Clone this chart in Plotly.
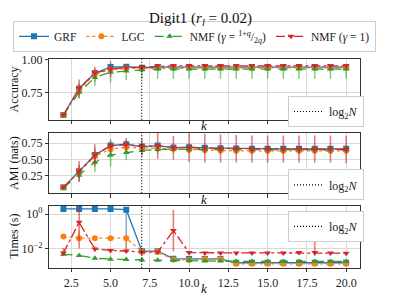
import plotly.graph_objects as go

# ---------------- data ----------------
k = list(range(2, 21))
LOG2N = 6.98

acc_grf = [0.575, 0.78, 0.90, 0.945, 0.948, 0.94, 0.945, 0.945, 0.945, 0.945, 0.945, 0.945, 0.945, 0.945, 0.945, 0.945, 0.945, 0.945, 0.945]
acc_grf_err = [0.005, 0.04, 0.02, 0.01, 0.01, 0.01, 0.008, 0.008, 0.008, 0.008, 0.008, 0.008, 0.008, 0.008, 0.008, 0.008, 0.008, 0.008, 0.008]
acc_lgc = [0.575, 0.77, 0.89, 0.925, 0.935, 0.935, 0.94, 0.94, 0.94, 0.94, 0.94, 0.94, 0.94, 0.94, 0.94, 0.94, 0.94, 0.94, 0.94]
acc_lgc_err = [0.005, 0.04, 0.06, 0.02, 0.015, 0.015, 0.015, 0.015, 0.015, 0.015, 0.015, 0.015, 0.015, 0.015, 0.015, 0.015, 0.015, 0.015, 0.015]
acc_nmfq = [0.575, 0.75, 0.865, 0.905, 0.915, 0.925, 0.93, 0.93, 0.93, 0.93, 0.93, 0.93, 0.93, 0.93, 0.93, 0.93, 0.93, 0.93, 0.93]
acc_nmfq_errp = [0.005, 0.04, 0.04, 0.03, 0.03, 0.03, 0.03, 0.03, 0.03, 0.03, 0.03, 0.03, 0.03, 0.03, 0.03, 0.03, 0.03, 0.03, 0.03]
acc_nmfq_errm = [0.005, 0.05, 0.065, 0.08, 0.07, 0.07, 0.075, 0.075, 0.075, 0.075, 0.075, 0.075, 0.075, 0.075, 0.075, 0.075, 0.075, 0.075, 0.075]
acc_nmf1 = [0.575, 0.78, 0.90, 0.93, 0.94, 0.945, 0.955, 0.955, 0.955, 0.955, 0.955, 0.955, 0.955, 0.955, 0.955, 0.955, 0.955, 0.955, 0.955]
acc_nmf1_err = [0.005, 0.07, 0.04, 0.06, 0.03, 0.015, 0.01, 0.01, 0.01, 0.01, 0.01, 0.01, 0.01, 0.01, 0.01, 0.01, 0.01, 0.01, 0.01]

ami_grf = [0.075, 0.32, 0.57, 0.715, 0.735, 0.70, 0.715, 0.685, 0.69, 0.68, 0.675, 0.67, 0.665, 0.665, 0.665, 0.665, 0.665, 0.665, 0.665]
ami_grf_err = [0.01, 0.1, 0.1, 0.06, 0.07, 0.05, 0.04, 0.04, 0.04, 0.04, 0.04, 0.04, 0.04, 0.04, 0.04, 0.04, 0.04, 0.04, 0.04]
ami_lgc = [0.075, 0.31, 0.55, 0.66, 0.69, 0.68, 0.67, 0.665, 0.65, 0.645, 0.64, 0.635, 0.635, 0.635, 0.635, 0.635, 0.635, 0.635, 0.635]
ami_lgc_err = [0.01, 0.1, 0.1, 0.06, 0.05, 0.05, 0.05, 0.05, 0.05, 0.05, 0.05, 0.05, 0.05, 0.05, 0.05, 0.05, 0.05, 0.05, 0.05]
ami_nmfq = [0.07, 0.26, 0.46, 0.57, 0.61, 0.64, 0.655, 0.66, 0.66, 0.655, 0.655, 0.65, 0.65, 0.65, 0.65, 0.65, 0.65, 0.65, 0.65]
ami_nmfq_err = [0.01, 0.1, 0.15, 0.18, 0.12, 0.08, 0.06, 0.05, 0.05, 0.05, 0.05, 0.05, 0.05, 0.05, 0.05, 0.05, 0.05, 0.05, 0.05]
ami_nmf1 = [0.075, 0.32, 0.565, 0.71, 0.73, 0.70, 0.71, 0.68, 0.685, 0.675, 0.67, 0.665, 0.66, 0.66, 0.66, 0.66, 0.66, 0.66, 0.655]
ami_nmf1_err = [0.01, 0.16, 0.17, 0.1, 0.1, 0.12, 0.2, 0.18, 0.22, 0.22, 0.22, 0.21, 0.21, 0.21, 0.21, 0.21, 0.21, 0.21, 0.21]

t_grf = [2.0, 2.0, 2.0, 2.0, 1.8, 0.007, 0.007, 0.0026, 0.0025, 0.0025, 0.0025, 0.0015, 0.0015, 0.0015, 0.0015, 0.0015, 0.0015, 0.0015, 0.0015]
t_grf_errp = [0.2, 0.2, 0.2, 0.2, 0.2, 0.0005, 0.0005, 0.0002, 0.0002, 0.0002, 0.0002, 0.0001, 0.0001, 0.0001, 0.0001, 0.0001, 0.0001, 0.0001, 0.0001]
t_grf_errm = [0.2, 0.2, 0.2, 0.2, 1.793, 0.0005, 0.0005, 0.0002, 0.0002, 0.0002, 0.0002, 0.0001, 0.0001, 0.0001, 0.0001, 0.0001, 0.0001, 0.0001, 0.0001]
t_lgc = [0.05, 0.04, 0.04, 0.04, 0.04, 0.0065, 0.0065, 0.0023, 0.0022, 0.0024, 0.0024, 0.0013, 0.0013, 0.0013, 0.0013, 0.0013, 0.0013, 0.0013, 0.0013]
t_lgc_errp = [0.005, 0.06, 0.005, 0.005, 0.005, 0.0005, 0.0005, 0.0002, 0.0002, 0.0002, 0.0002, 0.0001, 0.0001, 0.0001, 0.0001, 0.0001, 0.0001, 0.0001, 0.0001]
t_lgc_errm = [0.005, 0.005, 0.005, 0.005, 0.032, 0.0005, 0.0005, 0.0002, 0.0002, 0.0002, 0.0002, 0.0001, 0.0001, 0.0001, 0.0001, 0.0001, 0.0001, 0.0001, 0.0001]
t_nmfq = [0.0046, 0.004, 0.0027, 0.0024, 0.0023, 0.0022, 0.0021, 0.002, 0.002, 0.0019, 0.0019, 0.0018, 0.0018, 0.0018, 0.0018, 0.0018, 0.0018, 0.0018, 0.0018]
t_nmfq_err = [0.0004, 0.0003, 0.0002, 0.0002, 0.0002, 0.0002, 0.0002, 0.0002, 0.0002, 0.0002, 0.0002, 0.0002, 0.0002, 0.0002, 0.0002, 0.0002, 0.0002, 0.0002, 0.0002]
t_nmf1 = [0.0056, 0.33, 0.0095, 0.0078, 0.0072, 0.0062, 0.0062, 0.11, 0.0058, 0.0056, 0.0056, 0.0056, 0.0056, 0.0056, 0.0056, 0.0058, 0.0058, 0.0056, 0.0054]
t_nmf1_errp = [0.005, 2.3, 0.004, 0.002, 0.002, 0.001, 0.001, 1.6, 0.001, 0.001, 0.001, 0.001, 0.001, 0.001, 0.001, 0.001, 0.02, 0.001, 0.001]
t_nmf1_errm = [0.002, 0.32, 0.002, 0.001, 0.001, 0.001, 0.001, 0.103, 0.001, 0.001, 0.001, 0.001, 0.001, 0.001, 0.001, 0.001, 0.002, 0.001, 0.001]

names = ["GRF", "LGC", "NMF (<i>γ</i> = <sup>1+<i>q</i></sup>/<sub>2<i>q</i></sub>)", "NMF (<i>γ</i> = 1)"]
colors = ["#1f77b4", "#ff7f0e", "#2ca02c", "#d62728"]
ecolors = ["rgba(31,119,180,0.55)", "rgba(255,127,14,0.55)", "rgba(44,160,44,0.55)", "rgba(214,39,40,0.6)"]
dashes = ["solid", "dot", "dash", "dashdot"]
symbols = ["square", "circle", "triangle-up", "triangle-down"]

FONT = "Liberation Serif, Times New Roman, Times, serif"

# the page body has an 8px margin: figure is 392x292 drawn at (8,8)
W, H, OFF = 392, 292, 8


def px(X):
    return (X - OFF) / W


def py(Y):
    return 1 - (Y - OFF) / H


fig = go.Figure()

panels = [
    ("x", "y", [(acc_grf, acc_grf_err, acc_grf_err), (acc_lgc, acc_lgc_err, acc_lgc_err),
                (acc_nmfq, acc_nmfq_errp, acc_nmfq_errm), (acc_nmf1, acc_nmf1_err, acc_nmf1_err)]),
    ("x2", "y2", [(ami_grf, ami_grf_err, ami_grf_err), (ami_lgc, ami_lgc_err, ami_lgc_err),
                  (ami_nmfq, ami_nmfq_err, ami_nmfq_err), (ami_nmf1, ami_nmf1_err, ami_nmf1_err)]),
    ("x3", "y3", [(t_grf, t_grf_errp, t_grf_errm), (t_lgc, t_lgc_errp, t_lgc_errm),
                  (t_nmfq, t_nmfq_err, t_nmfq_err), (t_nmf1, t_nmf1_errp, t_nmf1_errm)]),
]

for pi, (xa, ya, series) in enumerate(panels):
    for si, (vals, ep, em) in enumerate(series):
        fig.add_trace(go.Scatter(
            x=k, y=vals, xaxis=xa, yaxis=ya, mode="lines+markers",
            name=names[si], showlegend=(pi == 0), legend="legend",
            line=dict(color=colors[si], width=1.3, dash=dashes[si]),
            marker=dict(symbol=symbols[si], size=6, color=colors[si], line=dict(width=0)),
            error_y=dict(type="data", array=ep, arrayminus=em, symmetric=False,
                         color=ecolors[si], thickness=1.6, width=0),
        ))

legend_names = ["legend2", "legend3", "legend4"]
legend_tops = [91.7, 166.7, 209]
for i, (xa, ya, _) in enumerate(panels):
    fig.add_shape(type="line", xref=xa, yref=ya + " domain", x0=LOG2N, x1=LOG2N, y0=0, y1=1,
                  line=dict(color="black", dash="1px,2px", width=1.2))
    fig.add_trace(go.Scatter(x=[None], y=[None], xaxis=xa, yaxis=ya, mode="lines",
                             line=dict(color="black", dash="1px,2px", width=1.2),
                             name="log<sub>2</sub><i>N</i>", legend=legend_names[i], showlegend=True))

xdom = [px(49.3), px(360.3)]
doms = [[py(116), py(54.3)], [py(191), py(129)], [py(267), py(204)]]

axis_common = dict(showline=True, mirror=True, linecolor="#333333", linewidth=1,
                   ticks="outside", ticklen=3.5, tickcolor="#333333",
                   showgrid=True, gridcolor="#d8d8d8", gridwidth=1, zeroline=False,
                   tickfont=dict(family=FONT, size=12, color="#222222"))

xticks = [2.5, 5.0, 7.5, 10.0, 12.5, 15.0, 17.5, 20.0]
layout = dict(
    width=W, height=H, margin=dict(l=0, r=0, t=0, b=0),
    paper_bgcolor="white", plot_bgcolor="white",
    font=dict(family=FONT, size=12, color="#222222"),
)
for i, xa in enumerate(["xaxis", "xaxis2", "xaxis3"]):
    layout[xa] = dict(axis_common, domain=xdom, range=[1.1, 20.9], tickvals=xticks,
                      ticktext=[f"{v:.1f}" for v in xticks], showticklabels=(i == 2),
                      anchor=["y", "y2", "y3"][i])
layout["yaxis"] = dict(axis_common, domain=doms[0], range=[0.538, 1.005], tickvals=[0.75, 1.0],
                       ticktext=["0.75", "1.00"], anchor="x")
layout["yaxis2"] = dict(axis_common, domain=doms[1], range=[-0.015, 0.915], tickvals=[0.25, 0.5, 0.75],
                        ticktext=["0.25", "0.50", "0.75"], anchor="x2")
layout["yaxis3"] = dict(axis_common, domain=doms[2], type="log", range=[-3.11, 0.47], tickvals=[1, 0.01],
                        ticktext=["10<sup>0</sup>", "10<sup>−2</sup>"], anchor="x3")

layout["legend"] = dict(orientation="h", x=px(13), y=py(15), xanchor="left", yanchor="top",
                        bgcolor="white", bordercolor="#cccccc", borderwidth=1,
                        font=dict(family=FONT, size=11.5, color="#222222"), itemwidth=30)
for i, ln in enumerate(legend_names):
    layout[ln] = dict(x=px(288), y=py(legend_tops[i]), xanchor="left", yanchor="top",
                      bgcolor="white", bordercolor="#cccccc", borderwidth=1,
                      font=dict(family=FONT, size=12, color="#222222"))

fig.update_layout(**layout)

ann = [
    dict(text="Digit1 (<i>r<sub>l</sub></i> = 0.02)", x=200, y=13, size=15, angle=0),
    dict(text="Accuracy", x=14, y=85, size=12, angle=-90),
    dict(text="AMI (nats)", x=14, y=160, size=12, angle=-90),
    dict(text="Times (s)", x=14, y=235.5, size=12, angle=-90),
    dict(text="<i>k</i>", x=204, y=122, size=13, angle=0),
    dict(text="<i>k</i>", x=204, y=197, size=13, angle=0),
    dict(text="<i>k</i>", x=204, y=288, size=13, angle=0),
]
for a in ann:
    fig.add_annotation(text=a["text"], x=px(a["x"]), y=py(a["y"]), xref="paper", yref="paper",
                       showarrow=False, textangle=a["angle"], xanchor="center", yanchor="middle",
                       font=dict(family=FONT, size=a["size"], color="#111111"))

fig.write_html("out.html")
